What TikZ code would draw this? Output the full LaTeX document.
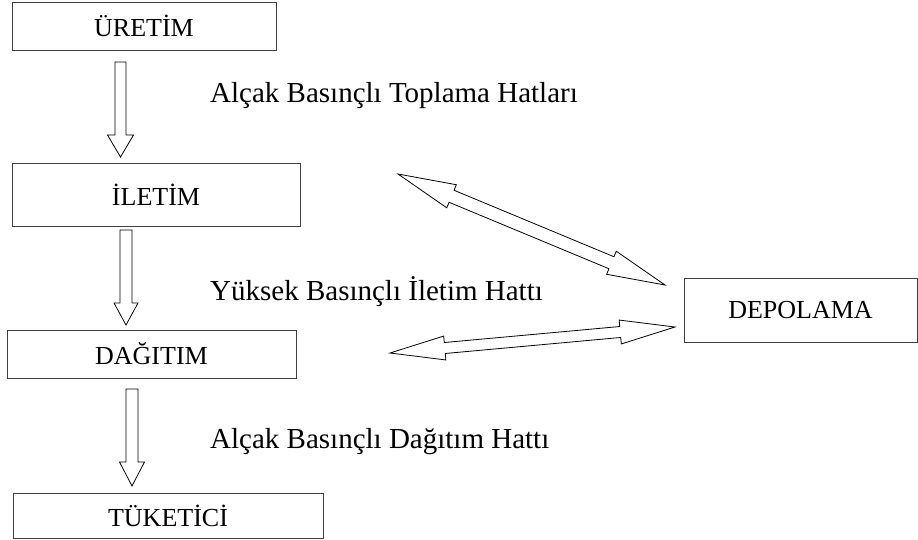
\documentclass[tikz,border=0pt]{standalone}
\usepackage{fontspec}
\setmainfont{Liberation Serif}
\usetikzlibrary{calc}
\tikzset{
  box/.style={draw=black!75, line width=0.8pt, inner sep=0pt, font=\fontsize{26}{30}\selectfont},
  lbl/.style={anchor=base west, inner sep=0pt, font=\fontsize{29}{34}\selectfont},
  blk/.style={draw=black, line width=0.8pt, line join=miter, fill=white},
}
% #1 tail, #2 tip, #3 shaft half width, #4 head half width, #5 head length
\newcommand\oneblockarrow[5]{%
  \coordinate (bh) at ($(#2)!#5!(#1)$);
  \draw[blk] ($(#1)!#3!90:(#2)$) -- ($(bh)!#3!90:(#2)$) -- ($(bh)!#4!90:(#2)$) -- (#2)
    -- ($(bh)!#4!-90:(#2)$) -- ($(bh)!#3!-90:(#2)$) -- ($(#1)!#3!-90:(#2)$) -- cycle;
}
\newcommand\twoblockarrow[5]{%
  \coordinate (ha) at ($(#1)!#5!(#2)$);
  \coordinate (hb) at ($(#2)!#5!(#1)$);
  \draw[blk] (#1) -- ($(ha)!#4!90:(#2)$) -- ($(ha)!#3!90:(#2)$) -- ($(hb)!#3!90:(#2)$)
    -- ($(hb)!#4!90:(#2)$) -- (#2) -- ($(hb)!#4!-90:(#2)$) -- ($(hb)!#3!-90:(#2)$)
    -- ($(ha)!#3!-90:(#2)$) -- ($(ha)!#4!-90:(#2)$) -- cycle;
}
\begin{document}
\begin{tikzpicture}[x=1pt, y=-1pt]
\useasboundingbox (0,0) rectangle (918,539);

\node[box, minimum width=264pt, minimum height=48pt] (uretim) at (144,26) {ÜRETİM};
\node[box, minimum width=288pt, minimum height=63pt] (iletim) at (156,194.5) {İLETİM};
\node[box, minimum width=289pt, minimum height=48pt] (dagitim) at (151.5,354) {DAĞITIM};
\node[box, minimum width=310pt, minimum height=45pt] (tuketici) at (168,515.5) {TÜKETİCİ};
\node[box, minimum width=233pt, minimum height=64pt] (depolama) at (800.5,310) {DEPOLAMA};

\node[lbl] (l1) at (210,102) {Alçak Basınçlı Toplama Hatları};
\node[lbl] (l2) at (210,300) {Yüksek Basınçlı İletim Hattı};
\node[lbl] (l3) at (210,448) {Alçak Basınçlı Dağıtım Hattı};

\coordinate (a1s) at (120.5,62);
\coordinate (a1e) at (120.5,157);
\coordinate (a2s) at (126,230);
\coordinate (a2e) at (126,325);
\coordinate (a3s) at (132,389);
\coordinate (a3e) at (132,486);
\oneblockarrow{a1s}{a1e}{5.5pt}{13pt}{22pt}
\oneblockarrow{a2s}{a2e}{6pt}{12pt}{22pt}
\oneblockarrow{a3s}{a3e}{6pt}{12.5pt}{24pt}

\coordinate (d1s) at (398,174);
\coordinate (d1e) at (665,285);
\coordinate (d2s) at (390,353);
\coordinate (d2e) at (675,327);
\twoblockarrow{d1s}{d1e}{6.5pt}{12.5pt}{58pt}
\twoblockarrow{d2s}{d2e}{5.5pt}{12pt}{55pt}
\end{tikzpicture}
\end{document}
